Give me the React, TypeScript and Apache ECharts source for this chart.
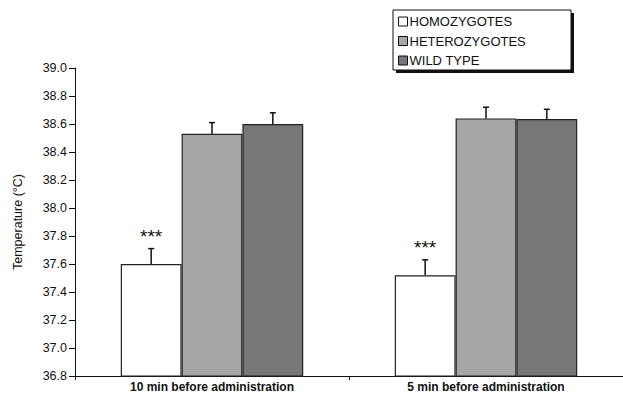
import React, { useEffect, useRef } from "react";
import * as echarts from "echarts";

const categories = ["10 min before administration", "5 min before administration"];
const seriesNames = ["HOMOZYGOTES", "HETEROZYGOTES", "WILD TYPE"];
const homozygotes = [37.6, 37.52];
const heterozygotes = [38.53, 38.64];
const wildType = [38.6, 38.635];
const homozygotesErr = [0.11, 0.11];
const heterozygotesErr = [0.08, 0.08];
const wildTypeErr = [0.08, 0.07];
const significance = ["***", "***"];
const yTicks = { min: 36.8, max: 39.0, interval: 0.2 };

const colors = ["#ffffff", "#a6a6a6", "#777777"];
const FONT = "Liberation Sans, Arial, sans-serif";

export default function App() {
  const ref = useRef<HTMLDivElement>(null);
  useEffect(() => {
    document.body.style.margin = "0";
    const chart = echarts.init(ref.current!, undefined, { renderer: "svg" });
    const values = [homozygotes, heterozygotes, wildType];
    const errs = [homozygotesErr, heterozygotesErr, wildTypeErr];
    const barCatGap = 0.334;

    const errSeries = values.map((vals, si) => ({
      type: "custom",
      name: seriesNames[si] + " err",
      z: 5,
      silent: true,
      data: vals.map((v, i) => [i, v, errs[si][i]]),
      renderItem: (params: any, api: any) => {
        const idx = api.value(0);
        const v = api.value(1);
        const e = api.value(2);
        const catW = api.size([1, 0])[0];
        const barW = (catW * (1 - barCatGap)) / 3;
        const base = api.coord([idx, v]);
        const top = api.coord([idx, v + e]);
        const x = base[0] + (si - 1) * barW;
        const children: any[] = [
          { type: "line", shape: { x1: x, y1: base[1], x2: x, y2: top[1] }, style: { stroke: "#111", lineWidth: 1.5 } },
          { type: "line", shape: { x1: x - 3, y1: top[1], x2: x + 3, y2: top[1] }, style: { stroke: "#111", lineWidth: 1.5 } },
        ];
        if (si === 0) {
          children.push({
            type: "text",
            style: {
              text: significance[idx],
              x: x,
              y: top[1] - 3,
              textAlign: "center",
              textVerticalAlign: "bottom",
              fontSize: 19,
              fontFamily: FONT,
              fill: "#111",
            },
          });
        }
        return { type: "group", children };
      },
    }));

    chart.setOption({
      animation: false,
      backgroundColor: "#ffffff",
      textStyle: { fontFamily: FONT },
      grid: { left: 75, top: 68, width: 553, height: 308 },
      legend: {
        data: seriesNames,
        orient: "vertical",
        left: 398,
        top: 15,
        icon: "rect",
        itemWidth: 9,
        itemHeight: 9,
        itemGap: 6.5,
        padding: 0,
        z: 10,
        textStyle: { fontSize: 13, color: "#111", fontFamily: FONT, padding: [0, 0, 0, -3] },
        itemStyle: { borderColor: "#111", borderWidth: 1 },
      },
      graphic: [
        { type: "rect", z: 1, shape: { x: 396, y: 13, width: 178, height: 60 }, style: { fill: "#111" } },
        { type: "rect", z: 2, shape: { x: 393, y: 10, width: 178, height: 60 }, style: { fill: "#fff", stroke: "#111", lineWidth: 1 } },
      ],
      xAxis: {
        type: "category",
        data: categories,
        axisLine: { lineStyle: { color: "#111", width: 1 } },
        axisTick: { show: true, length: 4, lineStyle: { color: "#111" } },
        axisLabel: { fontSize: 12, fontWeight: "bold", color: "#111", margin: 5 },
      },
      yAxis: {
        type: "value",
        min: yTicks.min,
        max: yTicks.max,
        interval: yTicks.interval,
        name: "Temperature (°C)",
        nameLocation: "middle",
        nameGap: 51,
        nameTextStyle: { fontSize: 12.5, color: "#111" },
        axisLine: { show: true, lineStyle: { color: "#111", width: 1 } },
        axisTick: { show: true, length: 6, lineStyle: { color: "#111" } },
        axisLabel: { fontSize: 12.5, color: "#111", margin: 8, formatter: (v: number) => v.toFixed(1) },
        splitLine: { show: false },
      },
      series: [
        ...values.map((vals, si) => ({
          type: "bar",
          name: seriesNames[si],
          data: vals,
          barGap: "0%",
          barCategoryGap: "33.4%",
          itemStyle: { color: colors[si], borderColor: "#222", borderWidth: 1.2 },
        })),
        ...errSeries,
      ],
    });
    return () => chart.dispose();
  }, []);
  return <div ref={ref} style={{ width: 623, height: 397 }} />;
}
